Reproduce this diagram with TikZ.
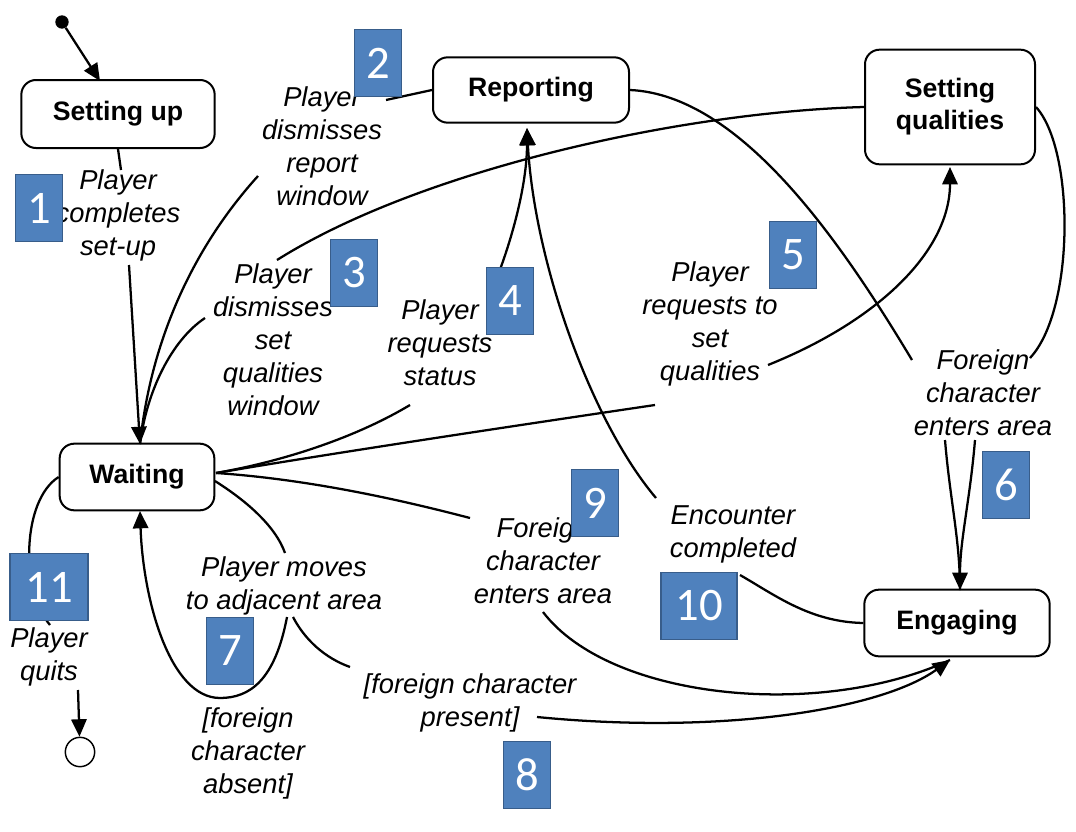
\documentclass[tikz,border=0pt]{standalone}
\usepackage{fontspec}
\setmainfont{Liberation Sans}
\newfontfamily\numfont{Carlito}
\usetikzlibrary{arrows.meta}
\definecolor{numfill}{HTML}{4F81BD}
\definecolor{numline}{HTML}{385D8A}
\begin{document}
\begin{tikzpicture}[x=0.75pt,y=-0.75pt,
  state/.style={draw, line width=1.5pt, rounded corners=11pt, align=center, inner sep=0pt, font=\fontsize{20}{24}\selectfont\bfseries},
  lbl/.style={align=center, inner sep=0pt, font=\fontsize{20.5}{24.75}\selectfont\itshape},
  num/.style={draw=numline, fill=numfill, line width=1.2pt, text=white, inner sep=0pt, minimum width=35pt, minimum height=50pt, font=\numfont\fontsize{35}{35}\selectfont},
  tr/.style={line width=1.7pt},
  arr/.style={tr, -{Triangle[length=13pt,width=11.5pt]}}
]
\fill[white] (0,0) rectangle (1076,832);
\useasboundingbox (0,0) rectangle (1076,832);

% states
\node[state, minimum width=145pt, minimum height=51pt] (su) at (118,114) {Setting up};
\node[state, minimum width=147pt, minimum height=49pt] (rep) at (531,90) {Reporting};
\node[state, minimum width=127.5pt, minimum height=86pt] (sq) at (950,107) {Setting\\qualities};
\node[state, minimum width=116pt, minimum height=50pt] (wait) at (137,477) {Waiting};
\node[state, minimum width=139pt, minimum height=50pt] (eng) at (957,623) {Engaging};
\node[circle, fill, inner sep=0pt, minimum size=10pt] (init) at (62,22) {};
\node[circle, draw, line width=1.1pt, inner sep=0pt, minimum size=22pt] (fin) at (80,752) {};

% labels
\node[lbl] (L1) at (118,215) {Player\\completes\\set-up};
\node[lbl] (L2) at (322,146) {Player\\dismisses\\report\\window};
\node[lbl] (L3) at (273,340) {Player\\dismisses\\set\\qualities\\window};
\node[lbl] (L4) at (440,343) {Player\\requests\\status};
\node[lbl] (L5) at (710,324) {Player\\requests to\\set\\qualities};
\node[lbl] (L6) at (983,393) {Foreign\\character\\enters area};
\node[lbl] (L7) at (284,586) {Player moves\\to adjacent area};
\node[lbl] (L7b) at (248,753) {[foreign\\character\\absent]};
\node[lbl] (L8) at (470,703) {[foreign character\\present]};
\node[lbl] (L9) at (543,561) {Foreign\\character\\enters area};
\node[lbl] (L10) at (733,534) {Encounter\\completed};
\node[lbl] (L11) at (49,657) {Player\\quits};

% connector points
\coordinate (suIn) at (100,81);
\coordinate (c1a) at (121,170);
\coordinate (c1b) at (129,265);
\coordinate (wIn) at (140,444);
\coordinate (c2a) at (386,100);
\coordinate (c2b) at (258,176);
\coordinate (c3a) at (277,260);
\coordinate (c3b) at (205,318);
\coordinate (wOut) at (216,473);
\coordinate (c4a) at (410,405);
\coordinate (c4b) at (498,275);
\coordinate (repIn) at (527,128);
\coordinate (c5a) at (655,405);
\coordinate (c5b) at (768,365);
\coordinate (sqIn) at (950,167);
\coordinate (c6a) at (912,360);
\coordinate (c6b) at (1030,358);
\coordinate (c6c) at (945,440);
\coordinate (c6d) at (975,440);
\coordinate (engIn) at (960,590);
\coordinate (wOut2) at (215,481);
\coordinate (c7a) at (285,553);
\coordinate (c7b) at (287,617);
\coordinate (c7m) at (220,698);
\coordinate (wIn2) at (140,511);
\coordinate (c8a) at (293,617);
\coordinate (c8b) at (350,667);
\coordinate (c8c) at (537,717);
\coordinate (engIn2) at (950,660);
\coordinate (c9a) at (470,518);
\coordinate (c9b) at (543,612);
\coordinate (c10a) at (740,575);
\coordinate (c10b) at (656,498);
\coordinate (c11a) at (50,625);
\coordinate (c11b) at (78,690);

% connectors
\draw[arr] (init) -- (suIn);
\draw[tr] (su.south) -- (c1a);
\draw[arr] (c1b) -- (wIn);
\draw[tr] (rep.west) -- (c2a);
\draw[tr] (c2b) .. controls (200,240) and (152,330) .. (wIn);
\draw[tr] (sq.west) .. controls (680,112) and (420,170) .. (c3a);
\draw[tr] (c3b) .. controls (172,340) and (147,390) .. (wIn);
\draw[tr] (wOut) .. controls (290,460) and (360,435) .. (c4a);
\draw[arr] (c4b) .. controls (515,230) and (527,180) .. (repIn);
\draw[tr] (wOut) .. controls (340,452) and (520,425) .. (c5a);
\draw[arr] (c5b) .. controls (880,320) and (950,250) .. (sqIn);
\draw[tr] (rep.east) .. controls (740,95) and (840,240) .. (c6a);
\draw[tr] (sq.east) .. controls (1075,150) and (1075,310) .. (c6b);
\draw[tr] (c6c) .. controls (950,500) and (960,540) .. (engIn);
\draw[arr] (c6d) .. controls (970,500) and (960,540) .. (engIn);
\draw[tr] (wOut2) .. controls (245,500) and (275,525) .. (c7a);
\draw[arr] (c7b) .. controls (275,680) and (250,698) .. (c7m) .. controls (170,698) and (143,600) .. (wIn2);
\draw[tr] (c8a) .. controls (305,640) and (325,658) .. (c8b);
\draw[tr] (wOut) .. controls (320,480) and (420,505) .. (c9a);
\draw[tr] (c9b) .. controls (610,700) and (820,720) .. (engIn2);
\draw[arr] (c8c) .. controls (720,735) and (880,710) .. (engIn2);
\draw[tr] (eng.west) .. controls (810,622) and (775,595) .. (c10a);
\draw[arr] (c10b) .. controls (590,420) and (534,260) .. (repIn);
\draw[tr] (wait.west) .. controls (22,500) and (20,590) .. (c11a);
\draw[arr] (c11b) -- (fin);

% number tags
\node[num] (n1) at (39,208) {1};
\node[num] (n2) at (378,63) {2};
\node[num] (n3) at (354,273) {3};
\node[num] (n4) at (510,301) {4};
\node[num] (n5) at (793,255) {5};
\node[num] (n6) at (1006,485) {6};
\node[num] (n7) at (230,651) {7};
\node[num] (n8) at (527,775) {8};
\node[num] (n9) at (595,503) {9};
\node[num, minimum width=57pt] (n10) at (699,606) {10};
\node[num, minimum width=58.5pt] (n11) at (49,587) {11};
\end{tikzpicture}
\end{document}
